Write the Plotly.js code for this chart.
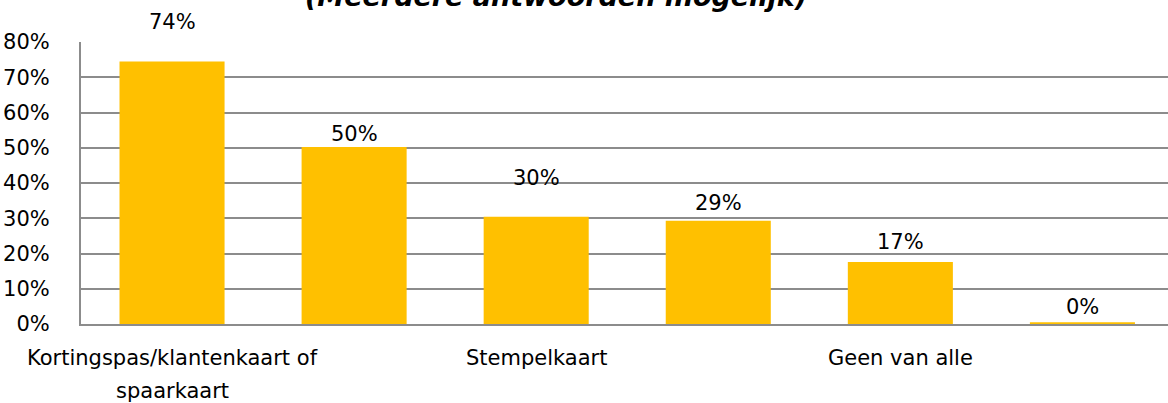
<!DOCTYPE html>
<html>
<head>
<meta charset="utf-8">
<script src="https://cdn.plot.ly/plotly-3.0.1.min.js"></script>
<style>html,body{margin:0;padding:0;background:#fff;}#chart{width:1168px;height:403px;}</style>
</head>
<body>
<div id="chart"></div>
<script>
// ---- data ----
const categories = [
  "Kortingspas/klantenkaart of spaarkaart",
  "Categorie 2",
  "Stempelkaart",
  "Categorie 4",
  "Geen van alle",
  "Categorie 6"
];
const values = [0.745, 0.502, 0.304, 0.293, 0.176, 0.005];
const valueLabels = ["74%", "50%", "30%", "29%", "17%", "0%"];
const shownTickIndex = [0, 2, 4];
const tickLines = [["Kortingspas/klantenkaart of", "spaarkaart"], ["Stempelkaart"], ["Geen van alle"]];
const titleText = "(Meerdere antwoorden mogelijk)";

// ---- style ----
const FONT = "DejaVu Sans";
const FS = 21;
const labelOffsets = [39, 13, 39, 18, 20, 15];
const gridCol = "#8c8c8c";

const trace = {
  type: "bar",
  x: categories,
  y: values,
  marker: {color: "#FFC000"},
  hoverinfo: "skip"
};

const annotations = [];
categories.forEach((c, i) => {
  annotations.push({
    x: c, y: values[i], xref: "x", yref: "y",
    text: valueLabels[i], showarrow: false,
    yanchor: "middle", yshift: labelOffsets[i],
    font: {family: FONT, size: FS, color: "#000"}
  });
});
shownTickIndex.forEach((ci, k) => {
  tickLines[k].forEach((line, li) => {
    annotations.push({
      x: categories[ci], xref: "x", y: 0, yref: "paper",
      text: line, showarrow: false,
      yanchor: "middle", yshift: -(34 + li * 33),
      font: {family: FONT, size: FS, color: "#000"}
    });
  });
});
annotations.push({
  x: 0.437, xref: "paper", y: 1, yref: "paper",
  text: titleText, showarrow: false,
  yanchor: "middle", yshift: 46,
  font: {family: FONT, size: 27, color: "#000", weight: "bold", style: "italic"}
});

const layout = {
  width: 1168, height: 403,
  margin: {l: 81, r: 0, t: 42, b: 79, pad: 0},
  paper_bgcolor: "#fff", plot_bgcolor: "#fff",
  showlegend: false,
  bargap: 0.423,
  font: {family: FONT, size: FS, color: "#000"},
  xaxis: {
    type: "category",
    range: [-0.5, 5.47],
    showticklabels: false,
    ticks: "",
    showgrid: false,
    showline: true, linecolor: gridCol, linewidth: 2,
    zeroline: false, fixedrange: true
  },
  yaxis: {
    range: [0, 0.8],
    dtick: 0.1, tick0: 0,
    tickformat: ".0%",
    ticks: "",
    ticklabelstandoff: 25,
    tickfont: {family: FONT, size: FS, color: "#000"},
    showgrid: true, gridcolor: gridCol, gridwidth: 2,
    showline: true, linecolor: gridCol, linewidth: 2,
    zeroline: false, fixedrange: true
  },
  annotations: annotations
};

Plotly.newPlot("chart", [trace], layout, {displayModeBar: false, staticPlot: true});
</script>
</body>
</html>
